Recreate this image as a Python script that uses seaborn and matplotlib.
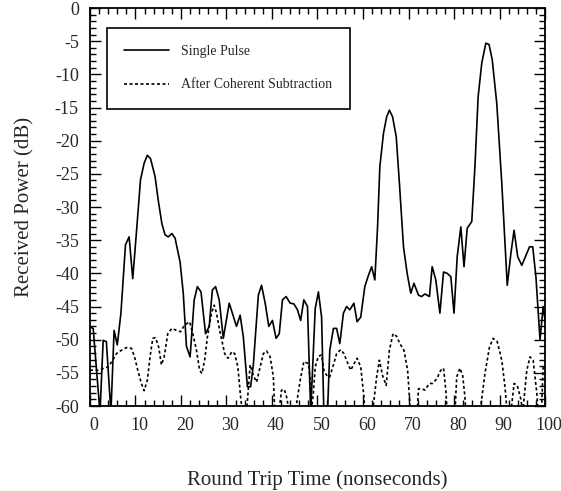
import numpy as np
import pandas as pd
import seaborn as sns
import matplotlib.pyplot as plt
import matplotlib.transforms as mtransforms
from matplotlib.ticker import MultipleLocator

# values (time in ns, power in dB)
single_t = [0, 0.7, 2.2, 2.9, 3.6, 4.6, 5.3, 6.0, 6.8, 7.8, 8.6, 9.4, 10.3, 11.1,
            11.9, 12.6, 13.3, 14.3, 15.0, 15.8, 16.5, 17.2, 18.0, 18.7, 19.8, 20.5,
            21.2, 22.0, 22.9, 23.6, 24.4, 25.4, 26.2, 26.9, 27.6, 28.4, 29.3, 30.6,
            32.2, 33.0, 33.7, 34.6, 35.3, 35.9, 37.0, 37.7, 38.5, 39.3, 40.1, 40.9,
            41.6, 42.3, 43.1, 44.0, 44.8, 45.6, 46.3, 47.0, 47.8, 48.5, 49.5, 50.2,
            50.9, 51.4, 52.2, 52.7, 53.5, 54.2, 54.9, 55.7, 56.4, 57.1, 58.0, 58.7,
            59.5, 60.4, 61.1, 61.9, 62.6, 63.2, 63.7, 64.5, 65.2, 65.8, 66.5, 67.3,
            68.0, 68.9, 69.7, 70.5, 71.2, 72.2, 72.9, 73.6, 74.6, 75.2, 76.0, 76.9,
            77.7, 78.5, 79.3, 80.0, 80.7, 81.5, 82.2, 82.9, 83.9, 84.6, 85.3, 86.1,
            87.0, 87.7, 88.4, 89.4, 90.5, 91.7, 92.5, 93.2, 94.0, 94.9, 95.8, 96.6,
            97.3, 98.0, 98.9, 99.6, 100]
single_db = [-48.1, -48.3, -61, -50.1, -50.3, -61, -48.6, -50.8, -46.0, -35.7, -34.5,
             -40.8, -33, -25.9, -23.4, -22.2, -22.7, -25.4, -29, -32.5, -34.2, -34.5,
             -34.0, -34.7, -38.3, -43, -51, -52.6, -44, -42, -42.8, -49.1, -48, -42.5,
             -42, -44, -49.8, -44.5, -48, -46.3, -49.6, -57.1, -57.1, -53.8, -43.3,
             -41.8, -44.5, -48, -47.1, -49.8, -49.1, -44, -43.5, -44.5, -44.6, -45.5,
             -47.1, -44, -45, -61, -45.3, -42.8, -46.6, -61, -61, -51.6, -48.3, -48.3,
             -50.6, -46, -45, -45.5, -44.5, -47.3, -46.6, -42, -40.5, -39, -41, -33,
             -23.9, -18.9, -16.4, -15.4, -16.4, -19.4, -26.4, -36, -40, -43, -41.5,
             -43.3, -43.5, -43.1, -43.5, -39, -41, -46, -39.8, -40, -40.5, -46, -37.5,
             -33, -39, -33.2, -32.2, -23.9, -13.4, -8.3, -5.3, -5.5, -7.8, -14.4,
             -26.4, -41.8, -37, -33.5, -37.5, -38.8, -37.3, -36, -36, -40.5, -50, -45,
             -47]

coherent_t = [0, 1.8, 4.0, 5.0, 5.8, 6.9, 8.0, 9.1, 9.8, 10.5, 11.3, 11.9, 12.6, 13.3,
              13.8, 14.4, 15.1, 15.7, 16.3, 17.1, 18.0, 19.0, 19.9, 20.8, 21.9, 22.6,
              23.4, 24.1, 24.6, 25.2, 25.8, 26.7, 27.3, 27.8, 28.5, 29.6, 30.3, 31.2,
              31.8, 32.5, 33.1, 33.5, 34.4, 35.2, 35.9, 36.6, 37.4, 38.1, 38.8, 39.6,
              40.3, 40.6, 41.5, 42.1, 42.7, 43.2, 43.8, 45.1, 46.2, 47.0, 48.0, 48.5,
              48.6, 49.1, 49.5, 50.2, 50.9, 51.4, 52.2, 52.7, 53.5, 54.2, 55.1, 55.8,
              56.5, 57.3, 57.9, 58.7, 59.5, 60.2, 60.4, 62.1, 63.0, 63.6, 64.3, 65.1,
              65.8, 66.6, 67.4, 68.1, 69.0, 69.8, 70.2, 70.4, 71.9, 72.2, 72.9, 73.6,
              74.6, 75.3, 76.2, 77.1, 77.7, 78.2, 78.5, 80.2, 80.6, 81.3, 81.9, 82.4,
              82.6, 85.7, 86.8, 87.8, 88.6, 89.5, 90.5, 91.2, 91.7, 92.5, 93.2, 93.9,
              94.7, 95.1, 96.0, 96.7, 97.4, 98.2, 98.5, 99.2, 99.6, 100]
coherent_db = [-54.6, -54.6, -54.1, -53.1, -52.1, -51.6, -51.2, -51.3, -52.6, -54.6,
               -56.6, -57.7, -56.1, -52.1, -49.8, -49.7, -51.1, -53.8, -52.6, -49.1,
               -48.3, -48.6, -48.8, -47.8, -47.3, -49.1, -51.6, -54.6, -55.1, -53.1,
               -49.6, -46, -44.8, -46, -48.6, -52.1, -52.8, -51.8, -52.1, -54.1, -58.6,
               -61, -61, -53.8, -55.4, -56.4, -54.1, -52.1, -51.7, -52.6, -55.6, -61,
               -61, -57.6, -57.5, -58.6, -61, -61, -56.1, -53.3, -53.6, -56.6, -61,
               -58, -54.1, -52.5, -52.3, -54.6, -55.6, -55.6, -53.8, -52.1, -51.5,
               -52.1, -53.3, -54.6, -53.8, -52.8, -54.1, -58.6, -61, -61, -55.6, -53.1,
               -55.4, -56.9, -51.6, -49.1, -49.5, -50.6, -51.6, -54.6, -58.6, -61, -61,
               -57.4, -57.4, -57.6, -56.6, -56.6, -55.9, -54.6, -54.3, -57.6, -61, -61,
               -55.6, -54.3, -55.4, -58.6, -61, -61, -55.1, -51.1, -49.8, -50.3, -53.1,
               -57.1, -61, -61, -56.6, -56.9, -59, -61, -54.6, -52.6, -53.1, -58.1, -61,
               -61, -54.1, -54]

sns.set_style("ticks")
plt.rcParams['font.family'] = ['Liberation Serif', 'DejaVu Serif']
plt.rcParams['axes.unicode_minus'] = False

fig = plt.figure(figsize=(5.61, 4.91), dpi=100)
ax = fig.add_axes([0.1604, 0.1731, 0.8111, 0.8106])

sns.lineplot(x=single_t, y=single_db, ax=ax, color='black', lw=1.2,
             sort=False, estimator=None, label='Single Pulse')
sns.lineplot(x=coherent_t, y=coherent_db, ax=ax, color='black', lw=1.2,
             linestyle=(0, (1.8, 1.5)), sort=False, estimator=None,
             label='After Coherent Subtraction')

ax.set_xlim(0, 100)
ax.set_ylim(-60, 0)
ax.xaxis.set_major_locator(MultipleLocator(10))
ax.xaxis.set_minor_locator(MultipleLocator(2))
ax.yaxis.set_major_locator(MultipleLocator(5))
ax.yaxis.set_minor_locator(MultipleLocator(1))
ax.tick_params(which='both', direction='in', top=True, right=True, width=1,
               labelsize=13, color='black')
ax.tick_params(which='major', length=8, pad=8)
ax.tick_params(which='minor', length=4)
for s in ax.spines.values():
    s.set_linewidth(1.3)
    s.set_color('black')

# the original prints the x labels a little right of their ticks
shift = mtransforms.ScaledTranslation(4 / 100, 0, fig.dpi_scale_trans)
for lab in ax.get_xticklabels():
    lab.set_transform(lab.get_transform() + shift)

ax.set_xlabel('Round Trip Time (nonseconds)', fontsize=15, labelpad=26)
ax.set_ylabel('Received Power (dB)', fontsize=15, labelpad=15)

leg = ax.legend(loc='upper left', bbox_to_anchor=(0.037, 0.95), borderaxespad=0,
                fontsize=10, frameon=True, fancybox=False, handlelength=3.2,
                handletextpad=0.9, labelspacing=1.45, borderpad=1.25)
leg.get_frame().set_edgecolor('black')
leg.get_frame().set_linewidth(1.2)
leg.get_frame().set_alpha(1)

fig.savefig('out.png', dpi=100)
